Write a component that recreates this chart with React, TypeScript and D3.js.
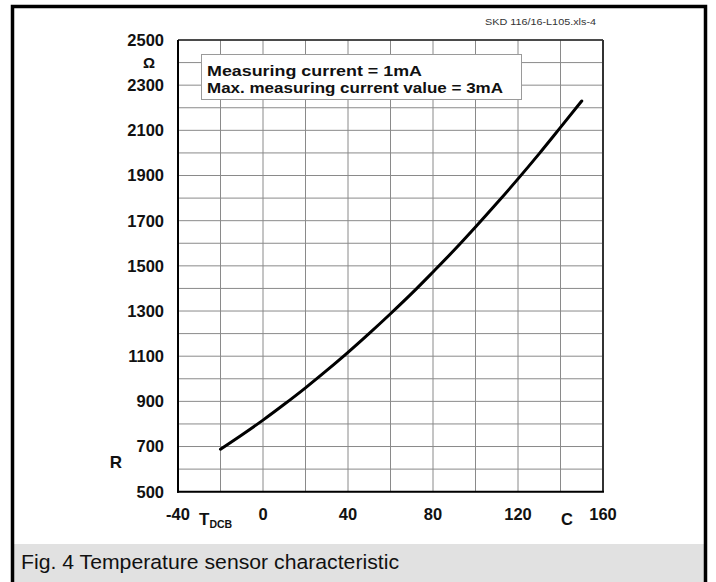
import React from "react";
import * as d3 from "d3";

const temperatures = [-20, -10, 0, 10, 20, 30, 40, 50, 60, 70, 80, 90, 100, 110, 120, 130, 140, 150];
const resistance = [688, 751, 817, 887, 960, 1037, 1117, 1201, 1288, 1378, 1473, 1570, 1672, 1777, 1885, 1997, 2113, 2230];
const xTickLabels = [-40, 0, 40, 80, 120, 160];
const yTickLabels = [500, 700, 900, 1100, 1300, 1500, 1700, 1900, 2100, 2300, 2500];
const legendLines = ["Measuring current = 1mA", "Max. measuring current value = 3mA"];
const legendWidths = [215, 296];
const captionText = "Fig. 4 Temperature sensor characteristic";
const fileTag = "SKD 116/16-L105.xls-4";

const W = 716;
const H = 582;
const plot = { left: 178, right: 603, top: 40, bottom: 491.7 };

export default function App() {
  const x = d3.scaleLinear().domain([-40, 160]).range([plot.left, plot.right]);
  const y = d3.scaleLinear().domain([500, 2500]).range([plot.bottom, plot.top]);
  const vGrid = d3.range(-40, 161, 20);
  const hGrid = d3.range(500, 2501, 100);
  const line = d3
    .line<number>()
    .x((_, i) => x(temperatures[i]))
    .y((d) => y(d))
    .curve(d3.curveMonotoneX);
  const font = "Arial, 'Liberation Sans', Helvetica, sans-serif";

  return (
    <svg
      width={W}
      height={H}
      style={{ position: "absolute", left: 0, top: 0, background: "#fff" }}
      fontFamily={font}
    >
      <rect x={0} y={0} width={W} height={H} fill="#fff" />
      {/* caption band */}
      <rect x={14} y={544} width={692} height={H - 544} fill="#e1e1e1" />
      {/* outer frame */}
      <path d={`M12.5,${H + 2} V6.5 H705.5 V${H + 2}`} fill="none" stroke="#000" strokeWidth={3.5} />
      <text x={21} y={569} fontSize={20.5} fill="#111" textLength={378} lengthAdjust="spacingAndGlyphs">{captionText}</text>

      <text x={485} y={25} fontSize={9} fill="#333" textLength={111} lengthAdjust="spacingAndGlyphs">{fileTag}</text>

      {/* grid */}
      {vGrid.map((v) => (
        <line key={"v" + v} x1={x(v)} x2={x(v)} y1={plot.top} y2={plot.bottom} stroke="#8a8a8a" strokeWidth={1} />
      ))}
      {hGrid.map((v) => (
        <line key={"h" + v} x1={plot.left} x2={plot.right} y1={y(v)} y2={y(v)} stroke="#8a8a8a" strokeWidth={1} />
      ))}
      {/* plot frame */}
      <line x1={plot.left} x2={plot.right} y1={plot.top} y2={plot.top} stroke="#222" strokeWidth={1.5} />
      <line x1={plot.right} x2={plot.right} y1={plot.top} y2={plot.bottom} stroke="#333" strokeWidth={2} />
      <line x1={plot.left} x2={plot.left} y1={plot.top} y2={plot.bottom + 1} stroke="#000" strokeWidth={2} />
      <line x1={plot.left - 1} x2={plot.right + 1} y1={plot.bottom} y2={plot.bottom} stroke="#000" strokeWidth={2} />

      {/* legend box */}
      <rect x={201.5} y={54.5} width={320} height={45} fill="#fff" stroke="#9a9a9a" strokeWidth={1} />
      {legendLines.map((t, i) => (
        <text key={t} x={207} y={76 + i * 16.5} fontSize={15} fontWeight="bold" fill="#111" textLength={legendWidths[i]} lengthAdjust="spacingAndGlyphs">{t}</text>
      ))}

      {/* curve */}
      <path d={line(resistance) || ""} fill="none" stroke="#000" strokeWidth={3} strokeLinecap="round" />

      {/* y ticks */}
      {yTickLabels.map((v) => (
        <text key={"y" + v} x={164} y={y(v)} dy="0.36em" fontSize={16.5} fontWeight="bold" textAnchor="end" fill="#111">{v}</text>
      ))}
      <text x={149} y={y(2400)} dy="0.36em" fontSize={15} fontWeight="bold" textAnchor="middle" fill="#111">Ω</text>
      <text x={116} y={y(630)} dy="0.36em" fontSize={17} fontWeight="bold" textAnchor="middle" fill="#111">R</text>

      {/* x ticks */}
      {xTickLabels.map((v) => (
        <text key={"x" + v} x={x(v)} y={520} fontSize={16.5} fontWeight="bold" textAnchor="middle" fill="#111">{v}</text>
      ))}
      <text x={567} y={525} fontSize={16.5} fontWeight="bold" textAnchor="middle" fill="#111">C</text>
      <text x={199} y={525} fontSize={17} fontWeight="bold" fill="#111">
        T<tspan fontSize={10.5} dy={2.5}>DCB</tspan>
      </text>
    </svg>
  );
}
